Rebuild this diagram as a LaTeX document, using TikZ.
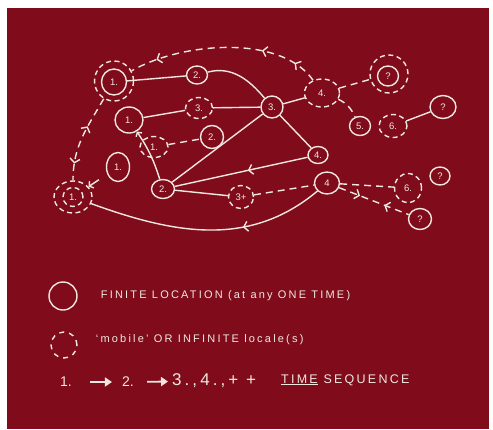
\documentclass[tikz,border=0pt]{standalone}
\usepackage{fontspec}
\setsansfont{Liberation Sans}
\newfontfamily\handfont[LetterSpace=20]{Liberation Sans}
\newfontfamily\seqfont[LetterSpace=18]{Liberation Sans}
\usetikzlibrary{positioning,arrows.meta,shapes.geometric,decorations.markings}
\definecolor{BoardRed}{RGB}{127,11,27}
\definecolor{Chalk}{RGB}{240,232,224}

\begin{document}
\begin{tikzpicture}[x=1pt, y=1pt,
loc/.style={ellipse, draw=Chalk, line width=1.4pt, inner sep=0pt, text=Chalk,
font=\sffamily\fontsize{9.5}{10}\selectfont},
mob/.style={loc, dash pattern=on 5pt off 3.5pt},
line/.style={draw=Chalk, line width=1.4pt},
dline/.style={line, dash pattern=on 7pt off 5pt},
fwd/.style={postaction={decorate, decoration={markings,
mark=at position #1 with {\arrow{Straight Barb[length=4pt, width=10pt]}}}}},
bwd/.style={postaction={decorate, decoration={markings,
mark=at position #1 with {\arrowreversed{Straight Barb[length=4pt, width=10pt]}}}}},
legtext/.style={text=Chalk, inner sep=0pt, font=\handfont\fontsize{11}{12}\selectfont},
seqnum/.style={text=Chalk, inner sep=0pt, font=\sffamily\fontsize{14}{16}\selectfont},
seqline/.style={draw=Chalk, line width=1.8pt, -{Triangle[length=7pt, width=9pt]}}]
\useasboundingbox (0,0) rectangle (493,-429);
\fill[white] (0,0) rectangle (493,-429);
\fill[BoardRed] (7,-8) rectangle (489,-429);

\node[loc, minimum width=25pt, minimum height=26pt] (a1) at (114,-82) {1.};
\node[mob, minimum width=39pt, minimum height=40pt] (a1o) at (114,-81) {};
\node[loc, minimum width=21pt, minimum height=18pt] (b2) at (197,-75) {2.};
\node[loc, minimum width=28pt, minimum height=26pt] (c1) at (129,-120) {1.};
\node[mob, minimum width=27pt, minimum height=21pt] (d3) at (199,-108) {3.};
\node[mob, minimum width=28pt, minimum height=21pt] (e1) at (154,-147) {1.};
\node[loc, minimum width=23pt, minimum height=23pt] (f2) at (212,-137) {2.};
\node[loc, minimum width=23pt, minimum height=29pt] (g1) at (118,-167) {1.};
\node[loc, minimum width=23pt, minimum height=19pt] (h2) at (163,-189) {2.};
\node[mob, minimum width=20pt, minimum height=19pt] (k1) at (73,-197) {1.};
\node[mob, minimum width=38pt, minimum height=32pt] (k1o) at (73,-197) {};
\node[mob, minimum width=25pt, minimum height=23pt] (m3) at (241,-197) {3+};
\node[loc, minimum width=22pt, minimum height=22pt] (n3) at (272,-107) {3.};
\node[mob, minimum width=35pt, minimum height=28pt] (p4) at (322,-93) {4.};
\node[loc, minimum width=21pt, minimum height=20pt] (q1) at (388,-76) {?};
\node[mob, minimum width=38pt, minimum height=38pt] (q1o) at (389,-74) {};
\node[loc, minimum width=21pt, minimum height=19pt] (r5) at (360,-126) {5.};
\node[mob, minimum width=28pt, minimum height=23pt] (s6) at (393,-126) {6.};
\node[loc, minimum width=26pt, minimum height=23pt] (q2) at (443,-107) {?};
\node[loc, minimum width=20pt, minimum height=17pt] (u4) at (318,-155) {4.};
\node[loc, minimum width=25pt, minimum height=22pt] (v4) at (327,-183) {4};
\node[mob, minimum width=27pt, minimum height=29pt] (w6) at (408,-188) {6.};
\node[loc, minimum width=20pt, minimum height=18pt] (q3) at (440,-176) {?};
\node[loc, minimum width=23pt, minimum height=21pt] (q4) at (420,-219) {?};

\draw[line] (a1) -- (b2);
\draw[line] (b2) to[out=15, in=130] (n3);
\draw[line] (c1) -- (d3);
\draw[line] (d3) -- (n3);
\draw[dline] (e1) -- (f2);
\draw[line] (n3) -- (p4);
\draw[dline] (p4) -- (q1o);
\draw[dline] (p4) to[bend left=20] (r5);
\draw[line] (s6) -- (q2);
\draw[line] (n3) -- (u4);
\draw[line] (n3) -- (h2);
\draw[line, fwd=0.45] (u4) -- (h2);
\draw[line] (h2) -- (m3);
\draw[dline] (m3) -- (v4);
\draw[dline] (v4) -- (w6);
\draw[dline, fwd=0.3, bwd=0.65] (v4) -- (q4);
\draw[line, -{Straight Barb[length=3pt, width=7pt]}] (h2) to[bend right=8] (c1);
\draw[line, fwd=0.35] (v4) to[out=220, in=-20] (k1o);
\draw[line, {Straight Barb[length=3pt, width=8pt]}-, shorten >=10pt] (k1o) -- (g1);
\draw[dline, fwd=0.13, fwd=0.31, fwd=0.86] (p4) to[out=125, in=30, looseness=0.8] (a1o);
\draw[dline, bwd=0.36, fwd=0.81] (a1o) to[out=240, in=90] (k1o);

\node[loc, minimum size=28pt] (legfin) at (63,-296) {};
\node[mob, minimum size=26pt, dash pattern=on 5pt off 5pt] (legmob) at (64,-345) {};
\node[legtext, right=23pt of legfin] (finlabel) {FINITE LOCATION (at any ONE TIME)};
\node[legtext, right=18pt of legmob, yshift=5pt] (moblabel) {‘mobile’ OR INFINITE locale(s)};

\node[seqnum] (t1) at (66,-382) {1.};
\node[seqnum] (t2) at (128,-382) {2.};
\node[seqnum, font=\seqfont\fontsize{17}{19}\selectfont, anchor=west] (t3) at (172,-381) {3.,4.,+ +};
\node[seqnum, font=\seqfont\fontsize{12.5}{14}\selectfont, anchor=west] (tseq) at (281,-380) {\underline{TIME} SEQUENCE};
\draw[seqline, shorten <=18pt, shorten >=10pt] (t1) -- (t2);
\draw[seqline, shorten <=13pt, shorten >=4pt] (t2) -- (t3);
\end{tikzpicture}
\end{document}
